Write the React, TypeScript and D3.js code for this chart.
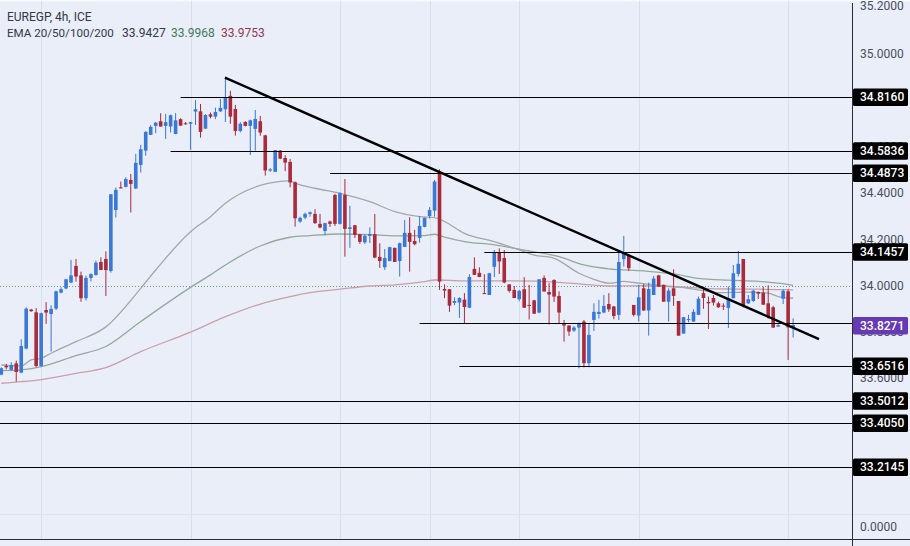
import * as d3 from 'd3';

const opens = [
  33.614, 33.652, 33.635, 33.663, 33.623, 33.727, 33.896, 33.884, 33.652, 33.894,
  33.877, 33.900, 33.969, 33.987, 34.013, 34.085, 34.044, 33.945, 34.033, 34.046,
  34.102, 34.115, 34.063, 34.327, 34.425, 34.427, 34.457, 34.420, 34.522, 34.584,
  34.652, 34.691, 34.711, 34.691, 34.688, 34.656, 34.720, 34.702, 34.700, 34.753,
  34.754, 34.679, 34.741, 34.731, 34.754, 34.763, 34.821, 34.764, 34.669, 34.708,
  34.691, 34.678, 34.711, 34.650, 34.498, 34.492, 34.584, 34.552, 34.535, 34.447,
  34.277, 34.294, 34.310, 34.310, 34.267, 34.236, 34.277, 34.392, 34.267, 34.392,
  34.245, 34.261, 34.222, 34.187, 34.215, 34.222, 34.124, 34.079, 34.106, 34.163,
  34.106, 34.167, 34.228, 34.193, 34.206, 34.254, 34.301, 34.324, 34.489, 33.985,
  33.984, 33.925, 33.926, 33.939, 33.904, 34.072, 34.055, 33.967, 33.959, 34.081,
  34.141, 34.119, 34.005, 33.981, 33.941, 33.984, 33.916, 33.936, 33.883, 34.033,
  33.972, 34.024, 33.955, 33.835, 33.827, 33.805, 33.818, 33.844, 33.664, 33.851,
  33.877, 33.883, 33.920, 33.909, 33.873, 34.114, 34.128, 33.916, 33.870, 33.988,
  33.892, 33.959, 34.044, 34.003, 33.930, 33.988, 33.933, 33.792, 33.852, 33.844,
  33.873, 33.967, 33.929, 33.946, 33.923, 33.913, 33.903, 33.945, 34.050, 34.115,
  33.923, 33.933, 33.972, 33.969, 33.923, 33.906, 33.822, 33.943, 33.975, 33.819,
];
const highs = [
  33.646, 33.661, 33.668, 33.675, 33.767, 33.906, 33.899, 33.902, 33.883, 33.928,
  33.915, 33.978, 33.992, 34.029, 34.111, 34.115, 34.060, 34.043, 34.053, 34.108,
  34.122, 34.148, 34.396, 34.424, 34.450, 34.469, 34.483, 34.570, 34.609, 34.668,
  34.694, 34.708, 34.746, 34.743, 34.740, 34.746, 34.724, 34.708, 34.707, 34.803,
  34.786, 34.741, 34.749, 34.770, 34.808, 34.894, 34.842, 34.782, 34.707, 34.711,
  34.718, 34.760, 34.734, 34.652, 34.509, 34.586, 34.586, 34.564, 34.548, 34.450,
  34.298, 34.316, 34.320, 34.330, 34.310, 34.272, 34.281, 34.397, 34.404, 34.461,
  34.345, 34.262, 34.223, 34.223, 34.252, 34.310, 34.183, 34.158, 34.167, 34.164,
  34.186, 34.284, 34.296, 34.241, 34.301, 34.294, 34.339, 34.457, 34.503, 34.005,
  33.985, 33.949, 33.949, 33.967, 34.049, 34.122, 34.079, 34.049, 34.055, 34.154,
  34.161, 34.154, 34.005, 33.998, 33.981, 34.036, 34.003, 33.938, 34.027, 34.044,
  34.010, 34.027, 33.975, 33.851, 33.828, 33.825, 33.840, 33.851, 33.837, 33.923,
  33.938, 33.959, 33.967, 33.912, 34.140, 34.215, 34.132, 33.916, 34.003, 34.007,
  34.013, 34.042, 34.046, 34.004, 33.988, 34.070, 33.933, 33.864, 33.873, 33.897,
  33.952, 33.995, 33.952, 33.959, 33.930, 33.923, 33.995, 34.089, 34.150, 34.115,
  33.959, 33.981, 33.974, 33.995, 34.001, 33.912, 33.837, 33.984, 33.984, 33.858,
];
const lows = [
  33.612, 33.637, 33.632, 33.584, 33.620, 33.724, 33.886, 33.646, 33.649, 33.834,
  33.714, 33.894, 33.966, 33.984, 34.010, 34.017, 33.930, 33.935, 34.018, 34.043,
  34.067, 33.955, 34.056, 34.294, 34.420, 34.425, 34.316, 34.418, 34.489, 34.562,
  34.652, 34.659, 34.688, 34.635, 34.662, 34.655, 34.691, 34.697, 34.587, 34.695,
  34.640, 34.678, 34.724, 34.721, 34.751, 34.708, 34.700, 34.649, 34.663, 34.689,
  34.565, 34.584, 34.648, 34.476, 34.492, 34.492, 34.547, 34.495, 34.425, 34.255,
  34.272, 34.287, 34.298, 34.267, 34.248, 34.218, 34.254, 34.258, 34.264, 34.125,
  34.163, 34.206, 34.180, 34.180, 34.184, 34.118, 34.076, 34.068, 34.105, 34.102,
  34.039, 34.167, 34.060, 34.174, 34.186, 34.252, 34.290, 34.298, 33.981, 33.945,
  33.886, 33.915, 33.860, 33.834, 33.902, 34.046, 34.036, 33.964, 33.959, 34.037,
  34.050, 34.010, 33.969, 33.945, 33.932, 33.903, 33.853, 33.877, 33.880, 33.974,
  33.832, 33.929, 33.837, 33.757, 33.782, 33.799, 33.642, 33.646, 33.646, 33.803,
  33.857, 33.880, 33.886, 33.854, 33.851, 34.082, 34.063, 33.866, 33.844, 33.890,
  33.783, 33.959, 33.995, 33.929, 33.844, 33.912, 33.783, 33.792, 33.841, 33.842,
  33.873, 33.899, 33.812, 33.913, 33.903, 33.894, 33.816, 33.945, 34.039, 33.906,
  33.920, 33.929, 33.942, 33.916, 33.857, 33.816, 33.822, 33.920, 33.678, 33.775,
];
const closes = [
  33.642, 33.646, 33.656, 33.626, 33.738, 33.900, 33.889, 33.652, 33.880, 33.883,
  33.899, 33.975, 33.984, 34.027, 34.044, 34.039, 33.945, 34.033, 34.049, 34.099,
  34.067, 34.067, 34.395, 34.414, 34.421, 34.461, 34.440, 34.531, 34.590, 34.665,
  34.687, 34.705, 34.688, 34.707, 34.737, 34.715, 34.692, 34.698, 34.707, 34.763,
  34.665, 34.738, 34.731, 34.751, 34.769, 34.812, 34.731, 34.669, 34.700, 34.691,
  34.715, 34.721, 34.662, 34.498, 34.503, 34.586, 34.549, 34.532, 34.446, 34.291,
  34.293, 34.310, 34.317, 34.270, 34.251, 34.270, 34.267, 34.267, 34.399, 34.245,
  34.252, 34.219, 34.189, 34.215, 34.223, 34.121, 34.106, 34.119, 34.166, 34.102,
  34.183, 34.228, 34.189, 34.179, 34.258, 34.293, 34.327, 34.450, 34.017, 33.978,
  33.913, 33.933, 33.946, 33.907, 34.037, 34.046, 34.037, 33.965, 34.053, 34.141,
  34.104, 34.013, 33.977, 33.946, 33.977, 33.904, 33.913, 33.878, 34.027, 33.974,
  33.961, 33.952, 33.883, 33.827, 33.801, 33.818, 33.837, 33.664, 33.786, 33.886,
  33.886, 33.912, 33.897, 33.868, 34.102, 34.145, 34.075, 33.873, 33.949, 33.892,
  33.985, 34.030, 33.995, 33.930, 33.978, 33.955, 33.783, 33.863, 33.855, 33.886,
  33.943, 33.946, 33.923, 33.926, 33.906, 33.910, 33.945, 34.053, 34.094, 33.915,
  33.941, 33.978, 33.965, 33.917, 33.863, 33.818, 33.828, 33.977, 33.819, 33.829,
];

const ema20Bars = [0, 4, 6, 8, 10, 12, 15, 21, 28, 31, 38, 42, 45, 52, 58, 59, 63, 68, 74, 79, 84, 87, 89, 93, 99, 104, 107, 111, 116, 119, 122, 125, 127, 132, 136, 141, 144, 150, 154, 156, 159];
const ema20 = [33.656, 33.652, 33.678, 33.685, 33.707, 33.728, 33.757, 33.821, 33.988, 34.067, 34.233, 34.298, 34.356, 34.433, 34.453, 34.443, 34.421, 34.399, 34.363, 34.320, 34.298, 34.294, 34.277, 34.226, 34.190, 34.154, 34.132, 34.118, 34.053, 34.027, 34.010, 34.018, 34.013, 34.000, 33.993, 33.978, 33.969, 33.971, 33.967, 33.952, 33.945];
const ema50Bars = [0, 4, 8, 15, 21, 28, 38, 42, 45, 52, 58, 62, 68, 74, 79, 85, 87, 89, 93, 99, 104, 112, 117, 122, 129, 135, 140, 146, 152, 156, 159];
const ema50 = [33.632, 33.635, 33.649, 33.697, 33.736, 33.844, 33.992, 34.046, 34.089, 34.171, 34.209, 34.216, 34.223, 34.220, 34.215, 34.216, 34.222, 34.209, 34.190, 34.176, 34.157, 34.125, 34.089, 34.072, 34.063, 34.050, 34.031, 34.023, 34.018, 34.010, 34.001];
const ema200Bars = [0, 4, 8, 15, 21, 28, 38, 45, 52, 58, 62, 68, 74, 79, 85, 87, 93, 103, 112, 117, 122, 129, 135, 141, 146, 152, 159];
const ema200 = [33.577, 33.584, 33.593, 33.620, 33.645, 33.714, 33.798, 33.865, 33.920, 33.952, 33.969, 33.984, 33.998, 34.003, 34.017, 34.024, 34.020, 34.020, 34.014, 34.005, 33.998, 33.999, 33.995, 33.988, 33.985, 33.984, 33.981];

const gridBars = [8, 38, 68, 86, 104, 128, 158];
const axisTicks = [35.2, 35.0, 34.6, 34.4, 34.2, 34.0, 33.8, 33.6];
const levels = [34.816, 34.5836, 34.4873, 34.1457, 33.8271, 33.6516, 33.5012, 33.405, 33.2145];
// the drawn line of the 33.8271 level sits a little above its label
const levelLines = [34.816, 34.5836, 34.4873, 34.1457, 33.8365, 33.6516, 33.4985, 33.405, 33.2145];
const levelStartBars = [36, 34, 66, 97, 84, 92, null, null, null];
const trendBars = [44.9, 164.2];
const trendPrices = [34.898, 33.768];
const lastEma = 33.9968;

const UP = '#3a78d6';
const DOWN = '#a92a3a';
const BG = '#e9eef9';
const FONT = 'Roboto, "Liberation Sans", sans-serif';

const axisX = 852.5;

const x = d3.scaleLinear().domain([0, 159]).range([1.3, 793.1]);
const y = d3.scaleLinear().domain([33.2145, 34.816, 35.2]).range([467, 97, 6]);

const emaLine = (bars: number[], values: number[]) =>
  d3.line<number>()
    .x((_, i) => x(bars[i]))
    .y(d => y(d))
    .curve(d3.curveMonotoneX)(values) || '';

export default function App() {
  return (
    <svg width={910} height={546} style={{ position: 'absolute', left: 0, top: 0, display: 'block', background: BG }} fontFamily={FONT}>
      <line x1={0} x2={910} y1={0.5} y2={0.5} stroke="#f8f9fd" strokeWidth={2} />

      {/* grid */}
      {gridBars.map(b => (
        <line key={b} x1={Math.round(x(b)) + 0.5} x2={Math.round(x(b)) + 0.5} y1={1} y2={539} stroke="#d8deeb" strokeWidth={1} />
      ))}
      <line x1={0} x2={910} y1={514.5} y2={514.5} stroke="#dde3f0" strokeWidth={1} />
      <line x1={0} x2={axisX} y1={Math.round(y(lastEma)) + 0.5} y2={Math.round(y(lastEma)) + 0.5} stroke="#6f9a80" strokeWidth={1} strokeDasharray="1 2" />

      {/* ema */}
      <path d={emaLine(ema200Bars, ema200)} fill="none" stroke="#c9a0a8" strokeWidth={1.3} />
      <path d={emaLine(ema50Bars, ema50)} fill="none" stroke="#94aa98" strokeWidth={1.3} />
      <path d={emaLine(ema20Bars, ema20)} fill="none" stroke="#a2a8a8" strokeWidth={1.3} />

      {/* candles */}
      {opens.map((o, i) => {
        const c = closes[i];
        const color = c >= o ? UP : DOWN;
        const cx = x(i);
        const top = y(Math.max(o, c));
        const bottom = y(Math.min(o, c));
        return (
          <g key={i} fill={color}>
            <rect x={cx - 0.5} width={1} y={y(highs[i])} height={y(lows[i]) - y(highs[i])} />
            <rect x={cx - 1.8} width={3.6} y={top} height={Math.max(bottom - top, 1)} />
          </g>
        );
      })}

      {/* levels */}
      {levelLines.map((v, i) => {
        const start = levelStartBars[i];
        const ly = Math.round(y(v)) + 0.5;
        return <line key={v} x1={start === null ? 0 : x(start)} x2={axisX} y1={ly} y2={ly} stroke="#000" strokeWidth={1} />;
      })}
      <line x1={x(trendBars[0])} x2={x(trendBars[1])} y1={y(trendPrices[0])} y2={y(trendPrices[1])} stroke="#000" strokeWidth={2.4} />

      {/* axis */}
      <line x1={0} x2={910} y1={539.5} y2={539.5} stroke="#2a2e39" strokeWidth={1} />
      <line x1={axisX} x2={axisX} y1={3} y2={546} stroke="#2a2e39" strokeWidth={1} />
      {axisTicks.map(t => (
        <text key={t} x={860} y={y(t)} dy="0.36em" fontSize={12} fill="#4a4f5c">{t.toFixed(4)}</text>
      ))}
      <text x={860} y={527} dy="0.36em" fontSize={12} fill="#4a4f5c">0.0000</text>

      {/* price labels */}
      {levels.map((v, i) => (
        <g key={v}>
          <rect x={853} y={y(v) - 8.5} width={55} height={17.5} rx={1.5} fill={i === 4 ? '#6639b5' : '#000'} />
          <text x={860} y={y(v)} dy="0.36em" fontSize={12} fontWeight={500} fill="#fff">{v.toFixed(4)}</text>
        </g>
      ))}

      {/* header */}
      <text x={7} y={21} fontSize={12} fill="#333845">EUREGP, 4h, ICE</text>
      <text x={7} y={37} fontSize={11.6} fill="#333845">EMA 20/50/100/200</text>
      <text x={122} y={37} fontSize={12} fill="#333845">33.9427</text>
      <text x={171} y={37} fontSize={12} fill="#3f7a57">33.9968</text>
      <text x={221} y={37} fontSize={12} fill="#8f3a4c">33.9753</text>
    </svg>
  );
}
